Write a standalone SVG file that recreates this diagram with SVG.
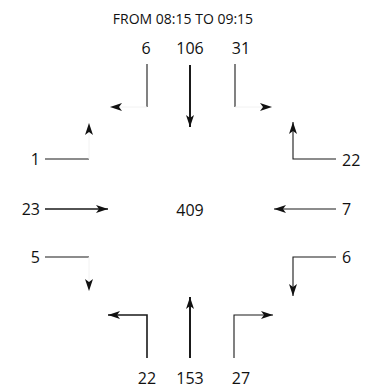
<svg xmlns="http://www.w3.org/2000/svg" width="367" height="389" viewBox="0 0 367 389">
  <style>
    text { font-family: "Open Sans", "Noto Sans", "DejaVu Sans", sans-serif; fill: #111; }
    .title { font-size: 14px; text-anchor: middle; }
    .num { font-size: 16px; }
    .mid { text-anchor: middle; }
    .end { text-anchor: end; }
    .flow { fill: none; stroke: #1a1a1a; stroke-linecap: butt; stroke-linejoin: miter; }
    .thin { stroke-width: 1.1; }
    .med { stroke-width: 1.6; }
    .thick { stroke-width: 2; }
    .faint { fill: none; stroke: #f2f2f2; stroke-width: 1; }
  </style>
  <defs>
    <marker id="arr" viewBox="0 0 12 8" refX="12" refY="4" markerWidth="12" markerHeight="8" markerUnits="userSpaceOnUse" orient="auto">
      <path d="M0,0 L12,4 L0,8 L3,4 z" fill="#111"/>
    </marker>
  </defs>

  <text class="title" x="183" y="24">FROM 08:15 TO 09:15</text>

  <g id="connectors">
    <!-- north approach -->
    <path class="flow thin" d="M147,64 V107"/>
    <path class="faint" d="M147,107 H110" marker-end="url(#arr)"/>
    <path class="flow thick" d="M190,65 V127" marker-end="url(#arr)"/>
    <path class="flow thin" d="M235,64 V107"/>
    <path class="faint" d="M235,107 H272" marker-end="url(#arr)"/>
    <!-- west approach -->
    <path class="flow thin" d="M45,159 H89"/>
    <path class="faint" d="M89,159 V123" marker-end="url(#arr)"/>
    <path class="flow med" d="M45,209 H108" marker-end="url(#arr)"/>
    <path class="flow thin" d="M45,257 H89"/>
    <path class="faint" d="M89,257 V291" marker-end="url(#arr)"/>
    <!-- east approach -->
    <path class="flow thin" d="M336,159 H293 V122" marker-end="url(#arr)"/>
    <path class="flow thin" d="M336,209 H274" marker-end="url(#arr)"/>
    <path class="flow thin" d="M336,257 H293 V296" marker-end="url(#arr)"/>
    <!-- south approach -->
    <path class="flow med" d="M147,358 V315 H108" marker-end="url(#arr)"/>
    <path class="flow thick" d="M190,358 V297" marker-end="url(#arr)"/>
    <path class="flow thin" d="M234,358 V315 H273" marker-end="url(#arr)"/>
  </g>

  <g id="north">
    <text class="num mid" x="146" y="54">6</text>
    <text class="num mid" x="190" y="54">106</text>
    <text class="num mid" x="241" y="54">31</text>
  </g>
  <g id="west">
    <text class="num end" x="40" y="165">1</text>
    <text class="num end" x="40" y="215">23</text>
    <text class="num end" x="40" y="263">5</text>
  </g>
  <g id="east">
    <text class="num" x="342" y="166">22</text>
    <text class="num" x="342" y="215">7</text>
    <text class="num" x="342" y="263">6</text>
  </g>
  <g id="south">
    <text class="num mid" x="147" y="384">22</text>
    <text class="num mid" x="190" y="384">153</text>
    <text class="num mid" x="241" y="384">27</text>
  </g>
  <g id="center">
    <text class="num mid" x="190" y="216">409</text>
  </g>
</svg>
